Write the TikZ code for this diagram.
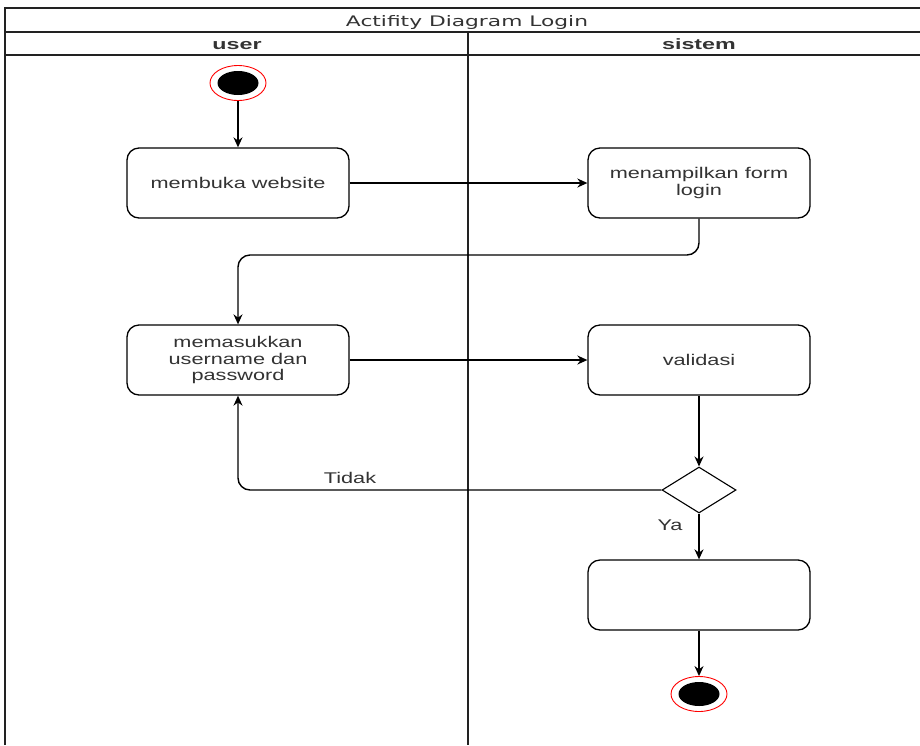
\documentclass[tikz,border=0pt]{standalone}
\usepackage{fontspec}
\setmainfont{Liberation Sans}
\newfontfamily\boxfont[FakeStretch=1.4]{Liberation Sans}
\newfontfamily\headfont[FakeStretch=1.55]{Liberation Sans}
\newfontfamily\titlefont[FakeStretch=1.5]{DejaVu Sans}
\usetikzlibrary{shapes.geometric,arrows.meta}
\definecolor{txt}{HTML}{333333}
\definecolor{frame}{HTML}{222222}
\begin{document}
\begin{tikzpicture}[x=1pt,y=-1pt,
  lane/.style={draw=frame,line width=1.4pt},
  actbox/.style={draw=black,line width=1.3pt,rounded corners=12pt,fill=white,
    minimum width=222pt,minimum height=70pt,inner sep=0pt,align=center,
    text=txt,font=\boxfont\fontsize{15.5}{16.5}\selectfont},
  lbl/.style={text=txt,font=\boxfont\fontsize{15.5}{16.5}\selectfont,inner sep=0pt},
  headtxt/.style={text=txt,font=\headfont\bfseries\fontsize{15}{17}\selectfont,inner sep=0pt,anchor=base},
  ttl/.style={text=txt,font=\titlefont\fontsize{14.5}{16}\selectfont,inner sep=0pt,anchor=base},
  ring/.style={ellipse,draw=red,line width=0.9pt,fill=white,minimum width=56pt,minimum height=35pt,inner sep=0pt},
  core/.style={ellipse,fill=black,minimum width=41pt,minimum height=24pt,inner sep=0pt},
  decision/.style={diamond,draw=black,line width=1.1pt,fill=white,minimum width=74pt,minimum height=46pt,inner sep=0pt},
  flow/.style={draw=black,line width=1.4pt,-{Stealth[length=10pt,width=9pt]}}
]
\useasboundingbox (0,0) rectangle (920,745);
\fill[white] (0,0) rectangle (920,745);
% swimlane frame
\draw[lane] (5,745) -- (5,8) -- (925,8);
\draw[lane] (5,32) -- (925,32);
\draw[lane] (5,55) -- (925,55);
\draw[lane] (468,32) -- (468,745);
\node[ttl] (title) at (467,26) {Actifity Diagram Login};
\node[headtxt] (huser) at (237,49.5) {user};
\node[headtxt] (hsis) at (699,49.5) {sistem};
% nodes
\node[ring] (start) at (238,83) {};
\node[core] (startc) at (start) {};
\node[actbox] (b1) at (238,183) {membuka website};
\node[actbox] (b2) at (699,183) {menampilkan form\\login};
\node[actbox] (b3) at (238,360) {memasukkan\\username dan\\password};
\node[actbox] (b4) at (699,360) {validasi};
\node[decision] (d) at (699,490) {};
\node[actbox] (b5) at (699,595) {};
\node[ring] (end) at (699,694) {};
\node[core] (endc) at (end) {};
% connectors
\draw[flow] (start.south) -- (b1.north);
\draw[flow] (b1.east) -- (b2.west);
\draw[flow,rounded corners=12pt] (b2.south) |- (470,255) -| (b3.north);
\draw[flow] (b3.east) -- (b4.west);
\draw[flow] (b4.south) -- (d.north);
\draw[flow,rounded corners=12pt] (d.west) -| (b3.south);
\draw[flow] (d.south) -- (b5.north);
\draw[flow] (b5.south) -- (end.north);
% labels
\node[lbl] (tidak) at (350,478) {Tidak};
\node[lbl] (ya) at (670,525) {Ya};
\end{tikzpicture}
\end{document}
